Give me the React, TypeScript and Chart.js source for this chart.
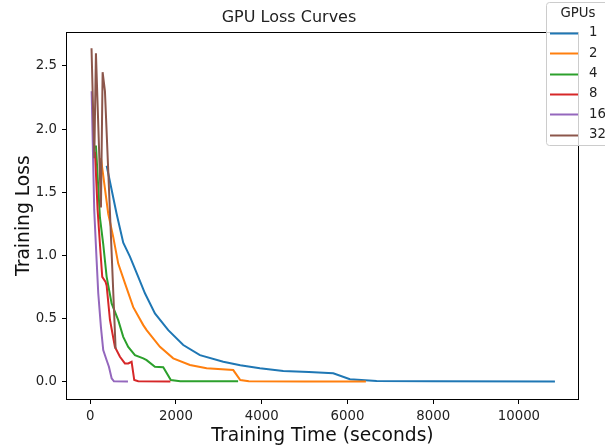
import React, { useEffect, useRef } from 'react';
import { Chart, registerables } from 'chart.js';

Chart.register(...registerables);

const gpuLabels = ['1', '2', '4', '8', '16', '32'];
const gpuColors = ['#1f77b4', '#ff7f0e', '#2ca02c', '#d62728', '#9467bd', '#8c564b'];

const time1 = [383, 615, 770, 926, 1120, 1276, 1509, 1820, 2170, 2559, 3103, 3500, 3958, 4503, 5100, 5669, 6058, 6681, 8000, 10840];
const loss1 = [1.71, 1.33, 1.1, 0.99, 0.83, 0.7, 0.54, 0.408, 0.29, 0.21, 0.158, 0.13, 0.106, 0.085, 0.076, 0.066, 0.019, 0.005, 0.003, 0.002];

const time2 = [250, 420, 537, 653, 809, 1003, 1237, 1315, 1626, 1936, 2326, 2715, 3336, 3500, 3700, 5000, 6430];
const loss2 = [1.77, 1.33, 1.145, 0.935, 0.78, 0.59, 0.448, 0.408, 0.276, 0.185, 0.132, 0.106, 0.092, 0.013, 0.003, 0.002, 0.002];

const time4 = [133, 226, 303, 383, 499, 653, 770, 886, 1043, 1237, 1315, 1509, 1703, 1880, 2100, 3450];
const loss4 = [1.87, 1.3, 1.09, 0.83, 0.62, 0.487, 0.355, 0.276, 0.21, 0.185, 0.171, 0.118, 0.114, 0.013, 0.004, 0.003];

const time8 = [110, 172, 226, 280, 358, 383, 460, 576, 693, 809, 886, 965, 1027, 1120, 1870];
const loss8 = [1.82, 1.36, 1.09, 0.83, 0.79, 0.76, 0.49, 0.276, 0.197, 0.145, 0.145, 0.158, 0.013, 0.003, 0.002];

const time16 = [33, 93, 149, 187, 250, 303, 383, 436, 499, 553, 880];
const loss16 = [2.3, 1.36, 0.96, 0.7, 0.43, 0.25, 0.17, 0.118, 0.027, 0.003, 0.002];

const time32 = [30, 95, 133, 250, 289, 343, 592];
const loss32 = [2.64, 1.77, 2.6, 1.38, 2.45, 2.3, 0.26];

const seriesTimes = [time1, time2, time4, time8, time16, time32];
const seriesLosses = [loss1, loss2, loss4, loss8, loss16, loss32];

const xTicks = [0, 2000, 4000, 6000, 8000, 10000];
const yTicks = [0, 0.5, 1.0, 1.5, 2.0, 2.5];

const chartTitle = 'GPU Loss Curves';
const xTitle = 'Training Time (seconds)';
const yTitle = 'Training Loss';
const legendTitle = 'GPUs';

const FONT = "'DejaVu Sans', sans-serif";

const framePlugin = {
  id: 'frameBox',
  afterDatasetsDraw(chart: any) {
    const { ctx, chartArea: a } = chart;
    ctx.save();
    ctx.strokeStyle = '#000';
    ctx.lineWidth = 1;
    ctx.strokeRect(Math.round(a.left) - 0.5, Math.round(a.top) + 0.5, Math.round(a.right - a.left) + 1, Math.round(a.bottom - a.top));
    ctx.restore();
  },
};

const legendPlugin = {
  id: 'customLegend',
  afterDraw(chart: any) {
    const { ctx } = chart;
    const bx = 546.5, by = 2.5, bw = 64, bh = 143, r = 3;
    ctx.save();
    ctx.beginPath();
    ctx.moveTo(bx + r, by);
    ctx.lineTo(bx + bw - r, by);
    ctx.arcTo(bx + bw, by, bx + bw, by + r, r);
    ctx.lineTo(bx + bw, by + bh - r);
    ctx.arcTo(bx + bw, by + bh, bx + bw - r, by + bh, r);
    ctx.lineTo(bx + r, by + bh);
    ctx.arcTo(bx, by + bh, bx, by + bh - r, r);
    ctx.lineTo(bx, by + r);
    ctx.arcTo(bx, by, bx + r, by, r);
    ctx.closePath();
    ctx.fillStyle = 'rgba(255,255,255,0.8)';
    ctx.fill();
    ctx.strokeStyle = '#cccccc';
    ctx.lineWidth = 1;
    ctx.stroke();

    ctx.fillStyle = '#222';
    ctx.font = `13.3px ${FONT}`;
    ctx.textAlign = 'center';
    ctx.textBaseline = 'middle';
    ctx.fillText(legendTitle, 578, 14);

    const datasets = chart.data.datasets;
    ctx.textAlign = 'left';
    for (let i = 0; i < datasets.length; i++) {
      const y = 33 + i * 20.3;
      ctx.strokeStyle = datasets[i].borderColor;
      ctx.lineWidth = 2;
      ctx.beginPath();
      ctx.moveTo(550, Math.round(y) + 0.5);
      ctx.lineTo(578, Math.round(y) + 0.5);
      ctx.stroke();
      ctx.fillStyle = '#222';
      ctx.fillText(datasets[i].label, 589, y);
    }
    ctx.restore();
  },
};

export default function App() {
  const canvasRef = useRef<HTMLCanvasElement | null>(null);

  useEffect(() => {
    const canvas = canvasRef.current;
    if (!canvas) return;
    Chart.defaults.font.family = FONT;
    Chart.defaults.color = '#222';

    const datasets = gpuLabels.map((label, i) => ({
      label,
      data: seriesTimes[i].map((t, j) => ({ x: t, y: seriesLosses[i][j] })),
      borderColor: gpuColors[i],
      backgroundColor: gpuColors[i],
      borderWidth: 2,
      pointRadius: 0,
      tension: 0,
      fill: false,
      order: gpuLabels.length - 1 - i,
    }));

    const chart = new Chart(canvas, {
      type: 'line',
      data: { datasets },
      options: {
        responsive: false,
        animation: false,
        devicePixelRatio: 1,
        layout: { padding: { left: 0, right: 27, top: 0, bottom: 0 } },
        plugins: {
          legend: { display: false },
          tooltip: { enabled: false },
          title: {
            display: true,
            text: chartTitle,
            color: '#222',
            font: { family: FONT, size: 16, weight: 'normal' },
            padding: { top: 8, bottom: 5 },
          },
        },
        scales: {
          x: {
            type: 'linear',
            min: -542,
            max: 11378,
            afterFit: (s: any) => { s.height = 46; },
            afterBuildTicks: (s: any) => { s.ticks = xTicks.map((v) => ({ value: v })); },
            ticks: {
              font: { family: FONT, size: 13.3 },
              color: '#222',
              padding: 5,
              maxRotation: 0,
              autoSkip: false,
              callback: (v: any) => String(v),
            },
            grid: { display: true, drawOnChartArea: false, drawTicks: true, tickLength: 5, color: '#000' },
            border: { display: false },
            title: {
              display: true,
              text: xTitle,
              color: '#111',
              font: { family: FONT, size: 18.7, lineHeight: 1.0 },
              padding: { top: 0, bottom: 0 },
            },
          },
          y: {
            type: 'linear',
            min: -0.137,
            max: 2.767,
            afterFit: (s: any) => { s.width = 67; },
            afterBuildTicks: (s: any) => { s.ticks = yTicks.map((v) => ({ value: v })); },
            ticks: {
              font: { family: FONT, size: 13.3 },
              color: '#222',
              padding: 5,
              autoSkip: false,
              callback: (v: any) => Number(v).toFixed(1),
            },
            grid: { display: true, drawOnChartArea: false, drawTicks: true, tickLength: 5, color: '#000' },
            border: { display: false },
            title: {
              display: true,
              text: yTitle,
              color: '#111',
              font: { family: FONT, size: 18.7 },
              padding: { top: 13, bottom: 0 },
            },
          },
        },
      },
      plugins: [framePlugin, legendPlugin],
    });

    return () => chart.destroy();
  }, []);

  return (
    <div style={{ position: 'absolute', left: 0, top: 0, width: 605, height: 445, background: '#fff' }}>
      <canvas ref={canvasRef} width={605} height={445} />
    </div>
  );
}
